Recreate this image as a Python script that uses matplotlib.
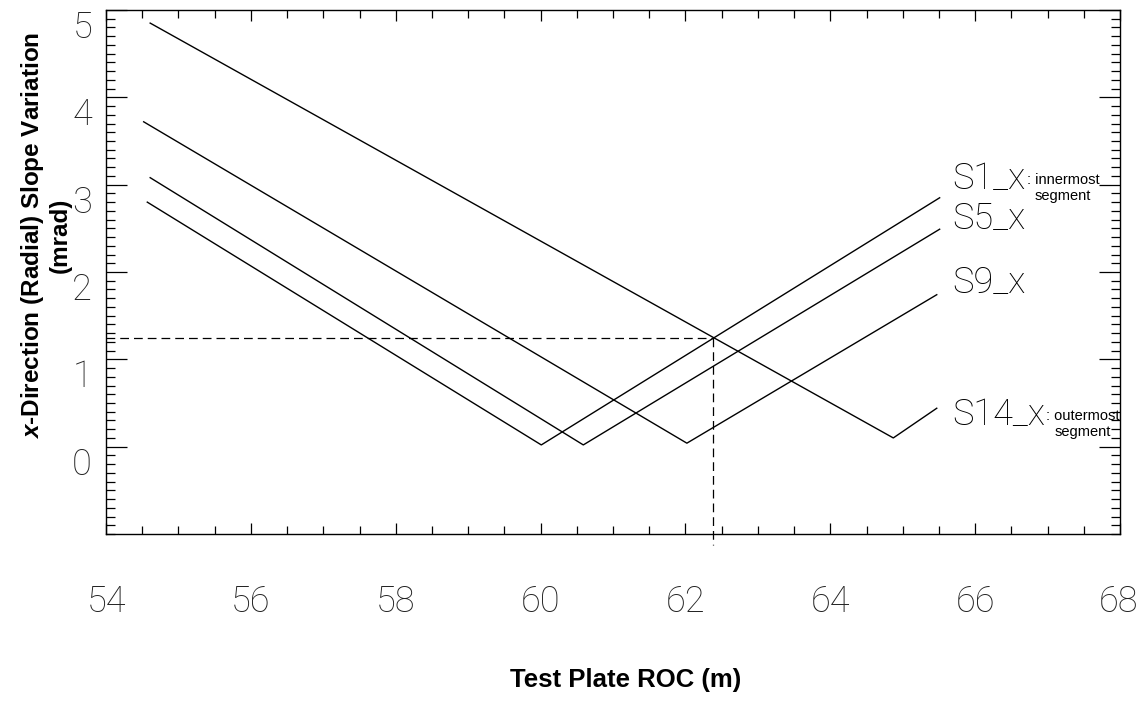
import numpy as np
import matplotlib
matplotlib.use("Agg")
import matplotlib.pyplot as plt
from matplotlib import font_manager as fm
from matplotlib.ticker import MultipleLocator
from matplotlib.transforms import ScaledTranslation

# Data: V-shaped slope curves (start, minimum, end)
roc_s1 = [54.57, 60.01, 65.51]
slope_s1 = [2.80, 0.02, 2.85]
roc_s5 = [54.61, 60.59, 65.51]
slope_s5 = [3.08, 0.02, 2.49]
roc_s9 = [54.52, 62.02, 65.47]
slope_s9 = [3.72, 0.04, 1.74]
roc_s14 = [54.61, 64.87, 65.47]
slope_s14 = [4.85, 0.10, 0.44]

series_names = ["S1_x", "S5_x", "S9_x", "S14_x"]
series_notes = [": innermost\nsegment", "", "", ": outermost\nsegment"]
label_slope = [3.06, 2.62, 1.89, 0.36]

# chosen test-plate ROC and resulting slope (dashed guide lines)
focus_roc = 62.38
focus_slope = 1.24

x_ticks = [54, 56, 58, 60, 62, 64, 66, 68]
y_ticks = [0, 1, 2, 3, 4, 5]


def thin_font(size):
    # tall thin look of the original tick numbers
    return fm.FontProperties(family=["Roboto", "DejaVu Sans"], weight="light", size=size)


plt.rcParams["mathtext.fontset"] = "custom"
plt.rcParams["mathtext.it"] = "Liberation Sans:bold:italic"
plt.rcParams["mathtext.rm"] = "Liberation Sans:bold"
plt.rcParams["mathtext.bf"] = "Liberation Sans:bold"

fig = plt.figure(figsize=(11.37, 7.19), dpi=100)
ax = fig.add_axes([106 / 1137, 1 - 534 / 719, 1014 / 1137, 524 / 719])

rocs = [roc_s1, roc_s5, roc_s9, roc_s14]
slopes = [slope_s1, slope_s5, slope_s9, slope_s14]
for r, s in zip(rocs, slopes):
    ax.plot(r, s, color="black", lw=1.0)

ax.set_xlim(54, 68)
ax.set_ylim(-1, 5)

# dashed guides
ax.plot([ax.get_xlim()[0], focus_roc], [focus_slope, focus_slope],
        color="black", lw=0.9, linestyle=(0, (7, 4)))
ax.plot([focus_roc, focus_roc], [focus_slope, -1.13],
        color="black", lw=0.9, linestyle=(0, (7, 4)), clip_on=False)

# segment labels
big = thin_font(26)
small = fm.FontProperties(family="Liberation Sans", size=10.5)
label_x = 65.69
for name, note, ly in zip(series_names, series_notes, label_slope):
    t = ax.text(label_x, ly, name, fontproperties=big, va="center", ha="left")
    if note:
        fig.canvas.draw()
        bb = t.get_window_extent()
        xr = ax.transData.inverted().transform((bb.x1, bb.y0))[0]
        ax.text(xr + 0.01, ly - 0.1, note, fontproperties=small, va="center", ha="left",
                multialignment="center", linespacing=1.15)

# ticks
ax.set_xticks(x_ticks)
ax.set_yticks(y_ticks)
ax.xaxis.set_minor_locator(MultipleLocator(0.5))
ax.yaxis.set_minor_locator(MultipleLocator(0.1))
ax.tick_params(axis="both", which="both", direction="in", top=True, right=True,
               width=0.9, color="black")
ax.tick_params(axis="x", which="major", length=8, pad=36)
ax.tick_params(axis="x", which="minor", length=6)
ax.tick_params(axis="y", which="major", length=15, pad=10)
ax.tick_params(axis="y", which="minor", length=6.5)

tick_font = thin_font(26)
for lbl in ax.get_xticklabels() + ax.get_yticklabels():
    lbl.set_fontproperties(tick_font)
    lbl.set_color("#222222")
for lbl in ax.get_yticklabels():
    lbl.set_transform(lbl.get_transform() + ScaledTranslation(0, -10 / 72, fig.dpi_scale_trans))
# last x label sits flush with the right edge of the figure
last = ax.get_xticklabels()[-1]
last.set_horizontalalignment("right")
last.set_transform(last.get_transform() + ScaledTranslation(13 / 72, 0, fig.dpi_scale_trans))

for sp in ax.spines.values():
    sp.set_linewidth(1.0)

ax.set_xlabel("Test Plate ROC (m)", fontsize=18.5, fontweight="bold",
              family="Liberation Sans")
ax.xaxis.set_label_coords(0.512, -0.256)
ax.set_ylabel("$x$-Direction (Radial) Slope Variation\n(mrad)", fontsize=17.5,
              fontweight="bold", family="Liberation Sans", linespacing=1.15)
ax.yaxis.set_label_coords(-0.034, 0.57)

fig.savefig("out.png", dpi=100)
